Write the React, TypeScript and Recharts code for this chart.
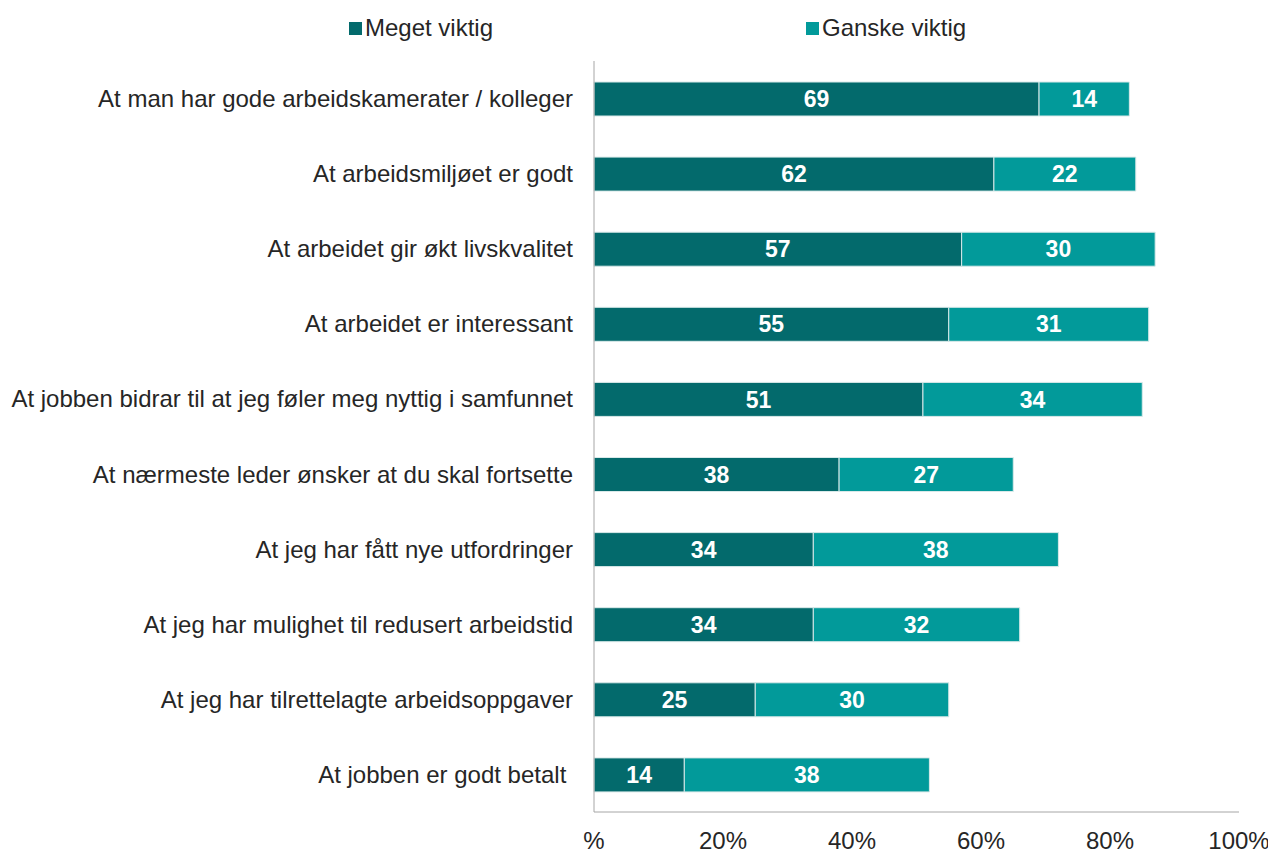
import { BarChart, Bar, XAxis, YAxis, Legend, LabelList } from 'recharts';

const categories = [
  'At man har gode arbeidskamerater / kolleger',
  'At arbeidsmiljøet er godt',
  'At arbeidet gir økt livskvalitet',
  'At arbeidet er interessant',
  'At jobben bidrar til at jeg føler meg nyttig i samfunnet',
  'At nærmeste leder ønsker at du skal fortsette',
  'At jeg har fått nye utfordringer',
  'At jeg har mulighet til redusert arbeidstid',
  'At jeg har tilrettelagte arbeidsoppgaver',
  'At jobben er godt betalt\u00a0',
];
const megetViktig = [69, 62, 57, 55, 51, 38, 34, 34, 25, 14];
const ganskeViktig = [14, 22, 30, 31, 34, 27, 38, 32, 30, 38];
const xTicks = [0, 20, 40, 60, 80, 100];

const DARK = '#036a6c';
const LIGHT = '#029a9a';
const AXIS = '#a6a6a6';
const TEXT = '#262626';
const FONT = '"Liberation Sans", Arial, sans-serif';

const data = categories.map((name, i) => ({
  name,
  meget: megetViktig[i],
  ganske: ganskeViktig[i],
}));

const legendItems = [
  { label: 'Meget viktig', color: DARK, left: 341 },
  { label: 'Ganske viktig', color: LIGHT, left: 798 },
];

function TopLegend() {
  return (
    <div style={{ position: 'relative', height: 40, fontFamily: FONT }}>
      {legendItems.map((it) => (
        <div
          key={it.label}
          style={{
            position: 'absolute',
            left: it.left,
            top: 6,
            display: 'flex',
            alignItems: 'center',
            fontSize: 24,
            color: TEXT,
          }}
        >
          <span style={{ width: 13, height: 13, background: it.color, marginRight: 3 }} />
          {it.label}
        </div>
      ))}
    </div>
  );
}

export default function App() {
  return (
    <div style={{ fontFamily: FONT }}>
      <BarChart
        width={1268}
        height={847}
        data={data}
        layout="vertical"
        margin={{ top: 13, right: 37, bottom: 13, left: 0 }}
        barSize={34}
      >
        <Legend
          verticalAlign="top"
          height={40}
          content={() => <TopLegend />}
          wrapperStyle={{ top: 0, left: 0, width: 1268 }}
        />
        <XAxis
          type="number"
          domain={[0, 100]}
          ticks={xTicks}
          height={30}
          tickSize={0}
          tickMargin={20}
          tickFormatter={(v: number) => (v === 0 ? '%' : `${v}%`)}
          tick={{ fontSize: 24, fill: TEXT, fontFamily: FONT }}
          axisLine={{ stroke: AXIS }}
          tickLine={false}
        />
        <YAxis
          type="category"
          dataKey="name"
          width={586}
          tickSize={0}
          tickMargin={21}
          tick={{ fontSize: 24, fill: TEXT, fontFamily: FONT }}
          axisLine={{ stroke: AXIS }}
          tickLine={false}
          interval={0}
        />
        <Bar dataKey="meget" stackId="a" fill={DARK} stroke="#d9e9e9" strokeWidth={1} isAnimationActive={false}>
          <LabelList dataKey="meget" position="center" fill="#ffffff" fontSize={23} fontWeight="bold" fontFamily={FONT} />
        </Bar>
        <Bar dataKey="ganske" stackId="a" fill={LIGHT} stroke="#d9e9e9" strokeWidth={1} isAnimationActive={false}>
          <LabelList dataKey="ganske" position="center" fill="#ffffff" fontSize={23} fontWeight="bold" fontFamily={FONT} />
        </Bar>
      </BarChart>
    </div>
  );
}
